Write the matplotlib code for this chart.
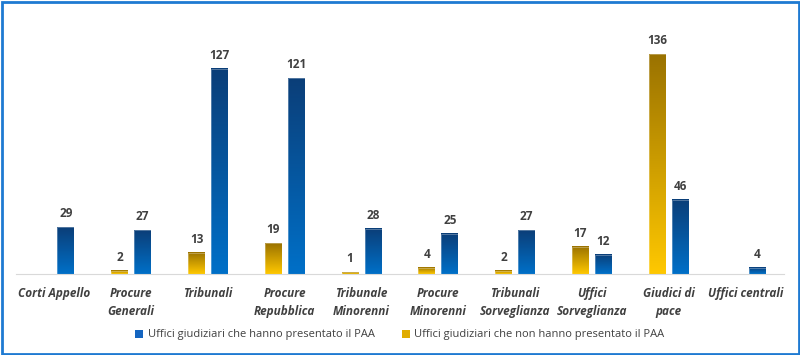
import numpy as np
import matplotlib
matplotlib.use("Agg")
import matplotlib.pyplot as plt
from matplotlib.patches import Patch, Rectangle
from matplotlib.colors import LinearSegmentedColormap

categories = ["Corti Appello", "Procure\nGenerali", "Tribunali", "Procure\nRepubblica",
              "Tribunale\nMinorenni", "Procure\nMinorenni", "Tribunali\nSorveglianza",
              "Uffici\nSorveglianza", "Giudici di\npace", "Uffici centrali"]
presented = [29, 27, 127, 121, 28, 25, 27, 12, 46, 4]
not_presented = [0, 2, 13, 19, 1, 4, 2, 17, 136, 0]
series_names = ["Uffici giudiziari che hanno presentato il PAA",
                "Uffici giudiziari che non hanno presentato il PAA"]

plt.rcParams['font.family'] = ['Open Sans', 'DejaVu Sans']

fig = plt.figure(figsize=(8, 3.55), dpi=100)
ax = fig.add_axes([16/800, 0.228, 768/800, 242.6/355])

x = np.arange(len(categories))
w = 0.22
off = 0.15
blue_cmap = LinearSegmentedColormap.from_list("b", ["#0070C8", "#0B3E78"])
gold_cmap = LinearSegmentedColormap.from_list("g", ["#FFC800", "#9A7200"])
grad = np.linspace(0, 1, 256).reshape(-1, 1)

ax.set_xlim(-0.5, len(categories) - 0.5)
ax.set_ylim(0, 150)

def draw(vals, pos, cmap):
    bars = ax.bar(pos, vals, width=w, color="none", edgecolor="none")
    for b, v in zip(bars, vals):
        if v <= 0:
            continue
        x0, y0 = b.get_x(), b.get_y()
        x1, y1 = x0 + b.get_width(), y0 + b.get_height()
        ax.imshow(grad, extent=(x0, x1, y0, y1), origin="lower", cmap=cmap,
                  aspect="auto", zorder=2, interpolation="bilinear")
        ax.add_patch(Rectangle((x0, y0), x1 - x0, y1 - y0, fill=False,
                               edgecolor=(1, 1, 1, 0.35), lw=0.6, zorder=3))
        ax.annotate(str(v), (b.get_x() + b.get_width() / 2, y1), xytext=(0, 5),
                    textcoords="offset points", ha="center", va="bottom",
                    fontsize=8.5, fontweight="bold", color="#404040")

draw(not_presented, x - off, gold_cmap)
draw(presented, x + off, blue_cmap)
ax.set_xlim(-0.5, len(categories) - 0.5)
ax.set_ylim(0, 150)

for s in ["top", "right", "left"]:
    ax.spines[s].set_visible(False)
ax.spines["bottom"].set_color("#D9D9D9")
ax.spines["bottom"].set_linewidth(0.8)
ax.set_yticks([])
ax.set_xticks(x)
ax.set_xticklabels(categories, fontsize=8.5, fontweight="bold", fontstyle="italic",
                   color="#404040", linespacing=1.5)
ax.tick_params(axis="x", length=0, pad=9)

handles = [Patch(facecolor="#1565C0"), Patch(facecolor="#E0AC00")]
fig.legend(handles, series_names, loc="center", bbox_to_anchor=(0.5, 1 - 335/355),
           ncol=2, frameon=False, fontsize=8, handlelength=0.7, handleheight=0.7,
           handletextpad=0.4, columnspacing=2.5, labelcolor="#404040")

fig.patches.append(Rectangle((1.5/800, 1.5/355), 797/800, 352/355, transform=fig.transFigure,
                             fill=False, edgecolor="#1E7AD2", lw=2))

fig.savefig("out.png", dpi=100)
